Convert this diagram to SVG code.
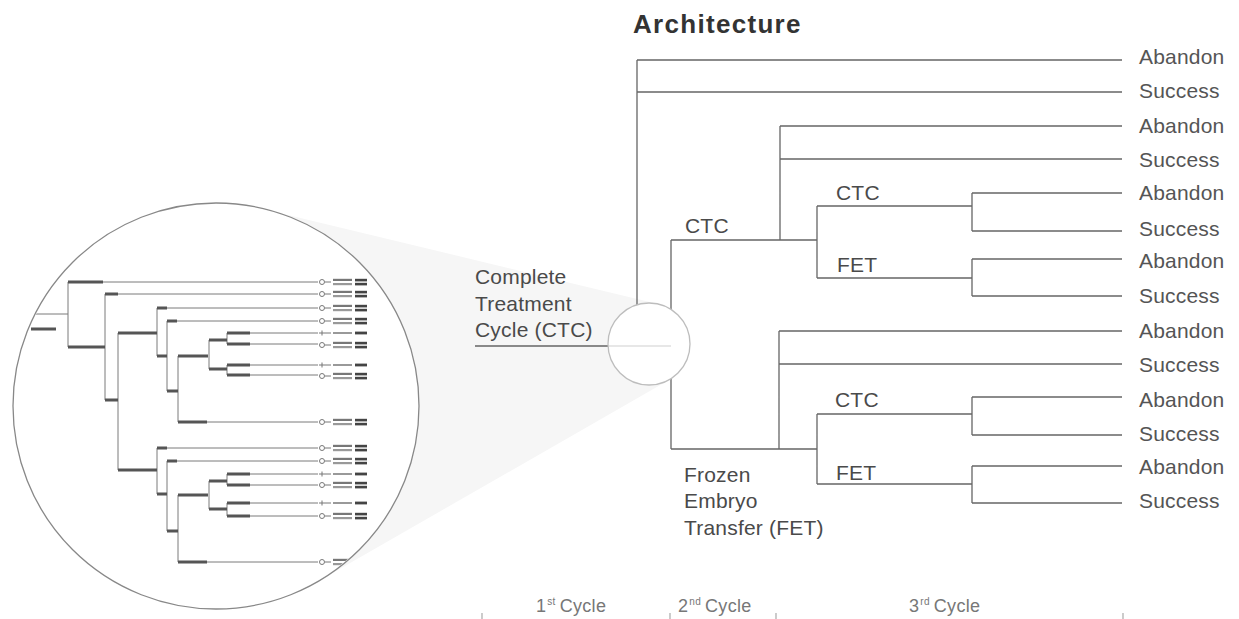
<svg xmlns="http://www.w3.org/2000/svg" width="1239" height="619" viewBox="0 0 1239 619">
<style>
.ln{stroke:#666;stroke-width:1.3;fill:none}
.lbl{font-family:"Liberation Sans",Arial,sans-serif;font-size:21px;fill:#4a4a4a;letter-spacing:0.2px}
.leaf{font-family:"Liberation Sans",Arial,sans-serif;font-size:21px;fill:#555;letter-spacing:0.2px}
.cyc{font-family:"Liberation Sans",Arial,sans-serif;font-size:18px;fill:#777;letter-spacing:0.3px}
.ttl{font-family:"Liberation Sans",Arial,sans-serif;font-size:26px;font-weight:bold;fill:#333;letter-spacing:1.3px}
.mt{stroke:#7a7a7a;stroke-width:1;fill:none}
.mk{stroke:#555;stroke-width:3;fill:none}
</style>
<defs>
<clipPath id="bigclip"><circle cx="216" cy="406" r="202"/></clipPath>
<g id="leafA"><circle cx="322" cy="0" r="2.5" fill="none" stroke="#777"/><path d="M325 0 H331" stroke="#777"/><rect x="333" y="-3.2" width="19" height="2.2" fill="#777"/><rect x="333" y="1" width="19" height="2.2" fill="#999"/><rect x="355" y="-3.2" width="12" height="2.6" fill="#444"/><rect x="355" y="0.8" width="12" height="2.6" fill="#444"/></g>
<g id="leafB"><path d="M322 -2.5 V2.5 M319 0 H331" stroke="#777"/><rect x="333" y="-1" width="19" height="2" fill="#999"/><rect x="355" y="-1.4" width="12" height="2.8" fill="#444"/></g>
</defs>
<rect width="1239" height="619" fill="#ffffff"/>

<g id="funnel">
<polygon points="216,406 263,209 658,304 669,380 317,582" fill="#f6f6f6"/>
</g>

<g id="inset">
<circle cx="216" cy="406" r="203" fill="#ffffff" stroke="#888" stroke-width="1.3"/>
<g clip-path="url(#bigclip)">
<path class="mt" d="M35 314 H68 M68 282 V347 M105 294 V400 M118 333 V470 M157 308 V356 M167 321 V391 M178 356 V422 M209 340 V369 M227 333 V344 M227 365 V375 M157 448 V494 M167 461 V531 M178 495 V562 M209 481 V509 M227 474 V485 M227 503 V516 M103 282 H318 M118 294 H318 M167 308 H318 M177 321 H318 M250 333 H318 M250 344 H318 M250 365 H318 M250 375 H318 M207 422 H318 M167 448 H318 M177 461 H318 M250 474 H318 M250 485 H318 M250 503 H318 M250 516 H318 M207 562 H318"/>
<path class="mk" d="M31 329 H56 M68 282 H103 M68 347 H105 M105 294 H118 M105 400 H118 M118 333 H157 M157 308 H167 M157 356 H167 M167 321 H177 M167 391 H178 M178 356 H208 M209 340 H227 M209 369 H227 M227 333 H250 M227 344 H250 M227 365 H250 M227 375 H250 M178 422 H207 M118 470 H157 M157 448 H167 M157 494 H167 M167 461 H177 M167 531 H178 M178 495 H208 M209 481 H227 M209 509 H227 M227 474 H250 M227 485 H250 M227 503 H250 M227 516 H250 M178 562 H207"/>
<use href="#leafA" y="282"/>
<use href="#leafA" y="294"/>
<use href="#leafA" y="308"/>
<use href="#leafA" y="321"/>
<use href="#leafB" y="333"/>
<use href="#leafA" y="345"/>
<use href="#leafB" y="365"/>
<use href="#leafA" y="376"/>
<use href="#leafA" y="422"/>
<use href="#leafA" y="448"/>
<use href="#leafA" y="461"/>
<use href="#leafB" y="474"/>
<use href="#leafA" y="485"/>
<use href="#leafB" y="503"/>
<use href="#leafA" y="516"/>
<use href="#leafA" y="562"/>
</g>
</g>

<g id="connectors">
<path class="ln" d="M475 346 H608 M637 60 V330 M637 60 H1122 M637 92 H1122 M671 240 V449 M671 240 H817 M780 126 V240 M780 126 H1122 M780 159 H1122 M817 206 V278 M817 206 H972 M817 278 H972 M972 193 V231 M972 193 H1122 M972 231 H1122 M972 259 V296 M972 259 H1122 M972 296 H1122 M671 449 H817 M779 331 V449 M779 331 H1122 M779 364 H1122 M817 414 V484 M817 414 H972 M817 484 H972 M972 397 V435 M972 397 H1122 M972 435 H1122 M972 466 V503 M972 466 H1122 M972 503 H1122"/>
</g>

<g id="root">
<circle cx="649" cy="344" r="41" fill="#ffffff" stroke="#bdbdbd" stroke-width="1.3"/>
<path d="M609 346 H671" stroke="#cfcfcf" stroke-width="1.2"/>
<text class="lbl" x="475" y="284">Complete</text>
<text class="lbl" x="475" y="311">Treatment</text>
<text class="lbl" x="475" y="337">Cycle (CTC)</text>
</g>

<g id="title"><text class="ttl" x="633" y="33">Architecture</text></g>

<g id="ctc2"><text class="lbl" x="685" y="233">CTC</text></g>
<g id="fet2">
<text class="lbl" x="684" y="482">Frozen</text>
<text class="lbl" x="684" y="508">Embryo</text>
<text class="lbl" x="684" y="535">Transfer (FET)</text>
</g>
<g id="ctc3a"><text class="lbl" x="836" y="200">CTC</text></g>
<g id="fet3a"><text class="lbl" x="837" y="272">FET</text></g>
<g id="ctc3b"><text class="lbl" x="835" y="407">CTC</text></g>
<g id="fet3b"><text class="lbl" x="836" y="480">FET</text></g>

<g id="outcomes">
<text class="leaf" x="1139" y="64">Abandon</text>
<text class="leaf" x="1139" y="98">Success</text>
<text class="leaf" x="1139" y="133">Abandon</text>
<text class="leaf" x="1139" y="167">Success</text>
<text class="leaf" x="1139" y="200">Abandon</text>
<text class="leaf" x="1139" y="236">Success</text>
<text class="leaf" x="1139" y="268">Abandon</text>
<text class="leaf" x="1139" y="303">Success</text>
<text class="leaf" x="1139" y="338">Abandon</text>
<text class="leaf" x="1139" y="372">Success</text>
<text class="leaf" x="1139" y="407">Abandon</text>
<text class="leaf" x="1139" y="441">Success</text>
<text class="leaf" x="1139" y="474">Abandon</text>
<text class="leaf" x="1139" y="508">Success</text>
</g>

<g id="cycles">
<path d="M482 613 V619 M670 613 V619 M776 613 V619 M1123 613 V619" stroke="#aaa" stroke-width="1.2"/>
<text class="cyc" x="536" y="612">1<tspan font-size="10" dy="-7" dx="1">st</tspan><tspan dy="7" dx="4">Cycle</tspan></text>
<text class="cyc" x="678" y="612">2<tspan font-size="10" dy="-7" dx="1">nd</tspan><tspan dy="7" dx="4">Cycle</tspan></text>
<text class="cyc" x="909" y="612">3<tspan font-size="10" dy="-7" dx="1">rd</tspan><tspan dy="7" dx="4">Cycle</tspan></text>
</g>
</svg>
